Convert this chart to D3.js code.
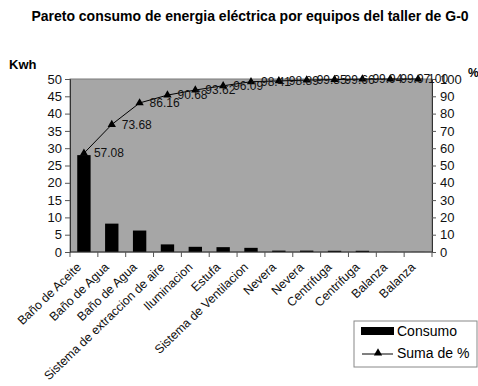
<!DOCTYPE html>
<html>
<head>
<meta charset="utf-8">
<script src="https://cdn.jsdelivr.net/npm/d3@7"></script>
<style>
  html, body { margin: 0; padding: 0; background: #fff; }
  svg { display: block; font-family: "Liberation Sans", Arial, sans-serif; }
</style>
</head>
<body>
<svg id="chart" width="478" height="386"></svg>
<script>
// Equipos del taller, ordenados de mayor a menor consumo
const categories = [
  "Baño de Aceite", "Baño de Agua", "Baño de Agua", "Sistema de extraccion de aire",
  "Iluminacion", "Estufa", "Sistema de Ventilacion", "Nevera", "Nevera",
  "Centrifuga", "Centrifuga", "Balanza", "Balanza"
];
// Consumo (Kwh)
const consumo = [28.0, 8.2, 6.2, 2.2, 1.5, 1.4, 1.2, 0.4, 0.4, 0.35, 0.35, 0.02, 0.02];
// Porcentaje acumulado (Suma de %)
const sumaPct = [57.08, 73.68, 86.16, 90.68, 93.62, 96.09, 98.41, 98.89, 99.35, 99.66, 99.94, 99.97, 100];
const leftTicks = [0, 5, 10, 15, 20, 25, 30, 35, 40, 45, 50];
const rightTicks = [0, 10, 20, 30, 40, 50, 60, 70, 80, 90, 100];

const svg = d3.select("#chart");
const plot = { left: 70, right: 432, top: 79, bottom: 252 };

const x = d3.scaleBand()
  .domain(d3.range(categories.length))
  .range([plot.left, plot.right])
  .paddingInner(0).paddingOuter(0);
const yL = d3.scaleLinear().domain([0, 50]).range([plot.bottom, plot.top]);
const yR = d3.scaleLinear().domain([0, 100]).range([plot.bottom, plot.top]);

// Title
svg.append("text")
  .attr("x", 250).attr("y", 21)
  .attr("text-anchor", "middle")
  .attr("font-size", 14).attr("font-weight", "bold")
  .text("Pareto consumo de energia eléctrica por equipos del taller de G-0");

// Plot background
svg.append("rect")
  .attr("x", plot.left).attr("y", plot.top)
  .attr("width", plot.right - plot.left).attr("height", plot.bottom - plot.top)
  .attr("fill", "#a6a6a6").attr("stroke", "#7a7a7a").attr("stroke-width", 1);

// Bars
const bw = x.bandwidth() * 0.48;
svg.append("g").selectAll("rect").data(consumo).join("rect")
  .attr("x", (d, i) => x(i) + (x.bandwidth() - bw) / 2)
  .attr("y", d => yL(d))
  .attr("width", bw)
  .attr("height", d => plot.bottom - yL(d))
  .attr("fill", "#000");

// Left axis
const gL = svg.append("g").attr("transform", `translate(${plot.left},0)`)
  .call(d3.axisLeft(yL).tickValues(leftTicks).tickSize(5).tickPadding(3));
gL.select(".domain").attr("stroke", "#333");
gL.selectAll(".tick line").attr("stroke", "#555");
gL.selectAll(".tick text").attr("font-size", 13).attr("fill", "#111")
  .attr("font-family", "Liberation Sans, Arial, sans-serif");

// Right axis
const gR = svg.append("g").attr("transform", `translate(${plot.right},0)`)
  .call(d3.axisRight(yR).tickValues(rightTicks).tickSize(4).tickPadding(4));
gR.select(".domain").attr("stroke", "#333");
gR.selectAll(".tick line").attr("stroke", "#555");
gR.selectAll(".tick text").attr("font-size", 13).attr("fill", "#111")
  .attr("font-family", "Liberation Sans, Arial, sans-serif");

// Bottom axis: ticks on category boundaries
const gB = svg.append("g");
gB.append("line")
  .attr("x1", plot.left).attr("x2", plot.right)
  .attr("y1", plot.bottom).attr("y2", plot.bottom)
  .attr("stroke", "#333");
gB.selectAll("line.tk").data(d3.range(categories.length + 1)).join("line")
  .attr("class", "tk")
  .attr("x1", i => plot.left + i * x.step()).attr("x2", i => plot.left + i * x.step())
  .attr("y1", plot.bottom).attr("y2", plot.bottom + 5)
  .attr("stroke", "#555");
gB.selectAll("text").data(categories).join("text")
  .attr("transform", (d, i) => `translate(${x(i) + x.bandwidth() / 2 - 5},${plot.bottom + 13}) rotate(-44)`)
  .attr("text-anchor", "end")
  .attr("dy", "0.35em")
  .attr("font-size", 12.3).attr("fill", "#111")
  .text(d => d);

// Axis titles
svg.append("text").attr("x", 9).attr("y", 69)
  .attr("font-size", 13).attr("font-weight", "bold").text("Kwh");
svg.append("text").attr("x", 468).attr("y", 77)
  .attr("font-size", 12).attr("font-weight", "bold").text("%");

// Cumulative line
const cx = i => x(i) + x.bandwidth() / 2;
const line = d3.line().x((d, i) => cx(i)).y(d => yR(d));
svg.append("path").datum(sumaPct)
  .attr("d", line).attr("fill", "none").attr("stroke", "#000").attr("stroke-width", 1);

const tri = d3.symbol().type(d3.symbolTriangle).size(30);
svg.append("g").selectAll("path").data(sumaPct).join("path")
  .attr("transform", (d, i) => `translate(${cx(i)},${yR(d)})`)
  .attr("d", tri).attr("fill", "#000");

svg.append("g").selectAll("text").data(sumaPct).join("text")
  .attr("x", (d, i) => cx(i) + 10)
  .attr("y", d => yR(d))
  .attr("dy", "0.35em")
  .attr("font-size", 12).attr("fill", "#111")
  .text(d => d3.format(".2f")(d).replace(/\.00$/, "").replace(/(\.\d)0$/, "$1"));

// Legend
const lg = svg.append("g").attr("transform", "translate(354,321)");
lg.append("rect").attr("x", 0).attr("y", 0).attr("width", 123).attr("height", 46)
  .attr("fill", "#fff").attr("stroke", "#888");
lg.append("rect").attr("x", 7).attr("y", 6).attr("width", 33).attr("height", 8).attr("fill", "#000");
lg.append("text").attr("x", 43).attr("y", 10.5).attr("dy", "0.35em").attr("font-size", 14).text("Consumo");
lg.append("line").attr("x1", 8).attr("x2", 39).attr("y1", 33).attr("y2", 33).attr("stroke", "#000");
lg.append("path").attr("transform", "translate(24,32)").attr("d", tri).attr("fill", "#000");
lg.append("text").attr("x", 43).attr("y", 32).attr("dy", "0.35em").attr("font-size", 14).text("Suma de %");
</script>
</body>
</html>
